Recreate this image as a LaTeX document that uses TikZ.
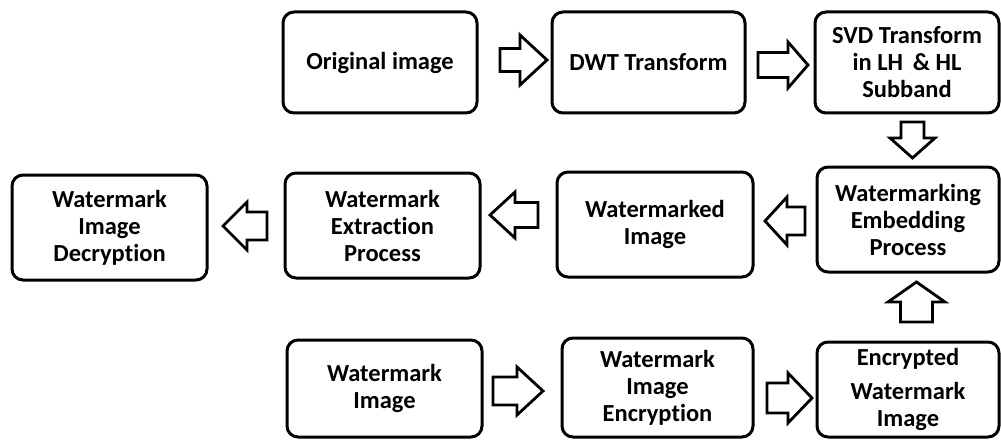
\documentclass[tikz,border=0pt]{standalone}
\usepackage{fontspec}
\setmainfont{Carlito}[Ligatures={NoCommon,NoContextual}]
\usetikzlibrary{calc}
% #1 centre coordinate name, #2 direction angle, #3 length, #4 head width, #5 shaft width, #6 head length
\newcommand{\blockarrow}[6]{%
  \draw[barrow, shift={(#1)}, rotate=#2]
    ({-#3/2},{-#5/2}) -- ({#3/2-#6},{-#5/2}) -- ({#3/2-#6},{-#4/2}) -- ({#3/2},0)
    -- ({#3/2-#6},{#4/2}) -- ({#3/2-#6},{#5/2}) -- ({-#3/2},{#5/2}) -- cycle;}
\begin{document}
\begin{tikzpicture}[x=1pt,y=-1pt,
  box/.style={draw, line width=3pt, rounded corners=11pt, align=center,
    font=\bfseries\fontsize{24.5}{27}\selectfont, inner sep=0pt},
  barrow/.style={draw, line width=2.8pt, fill=white, line join=miter}
]
\useasboundingbox (0,0) rectangle (1001,441);

\node[box, minimum width=194pt, minimum height=101pt] (orig) at (380,62.5) {Original image};
\node[box, minimum width=193pt, minimum height=101pt] (dwt) at (648.5,62.5) {DWT Transform};
\node[box, minimum width=184pt, minimum height=101pt] (svd) at (907,62.5) {SVD Transform\\in LH \,\& HL\\Subband};
\node[box, minimum width=182pt, minimum height=105pt] (embed) at (908,219.5) {Watermarking\\Embedding\\Process};
\node[box, minimum width=196pt, minimum height=105pt] (wmd) at (655,224.5) {Watermarked\\Image};
\node[box, minimum width=195pt, minimum height=105pt] (extr) at (382.5,225.5) {Watermark\\Extraction\\Process};
\node[box, minimum width=195pt, minimum height=105pt] (decr) at (109.5,227.5) {Watermark\\Image\\Decryption};
\node[box, minimum width=195pt, minimum height=97pt] (wmi) at (384.5,388.5) {Watermark\\Image};
\node[box, minimum width=191pt, minimum height=99pt] (enc) at (657.5,387.5) {Watermark\\Image\\Encryption};
\node[box, minimum width=182pt, minimum height=95pt] (encd) at (908,389.5) {Encrypted\\[7pt]Watermark\\Image};

% centres of the block arrows, taken between the boxes they join
\coordinate (c1) at ($(orig.east)!.5!(dwt.west)+(9,-2.5)$);
\coordinate (c2) at ($(dwt.east)!.5!(svd.west)+(3,2.5)$);
\coordinate (c3) at ($(svd.south)!.5!(embed.north)+(5,0)$);
\coordinate (c4) at ($(embed.west)!.5!(wmd.east)+(0,-1)$);
\coordinate (c5) at ($(wmd.west)!.5!(extr.east)+(-4.5,-10)$);
\coordinate (c6) at ($(extr.west)!.5!(decr.east)+(-1,-0.5)$);
\coordinate (c7) at ($(wmi.east)!.5!(enc.west)+(-4,3)$);
\coordinate (c8) at ($(enc.east)!.5!(encd.west)+(4.5,9.5)$);
\coordinate (c9) at ($(encd.north)!.5!(embed.south)+(8.5,-5)$);

\blockarrow{c1}{0}{47}{50}{23}{27}
\blockarrow{c2}{0}{50}{46}{25}{20}
\blockarrow{c3}{270}{36}{45}{23}{20}
\blockarrow{c4}{180}{40}{48}{28}{22}
\blockarrow{c5}{180}{48}{46}{25}{25}
\blockarrow{c6}{180}{44}{48}{28}{24}
\blockarrow{c7}{0}{50}{48}{28}{26}
\blockarrow{c8}{0}{45}{50}{30}{24}
\blockarrow{c9}{90}{40}{57}{32}{20}
\end{tikzpicture}
\end{document}
